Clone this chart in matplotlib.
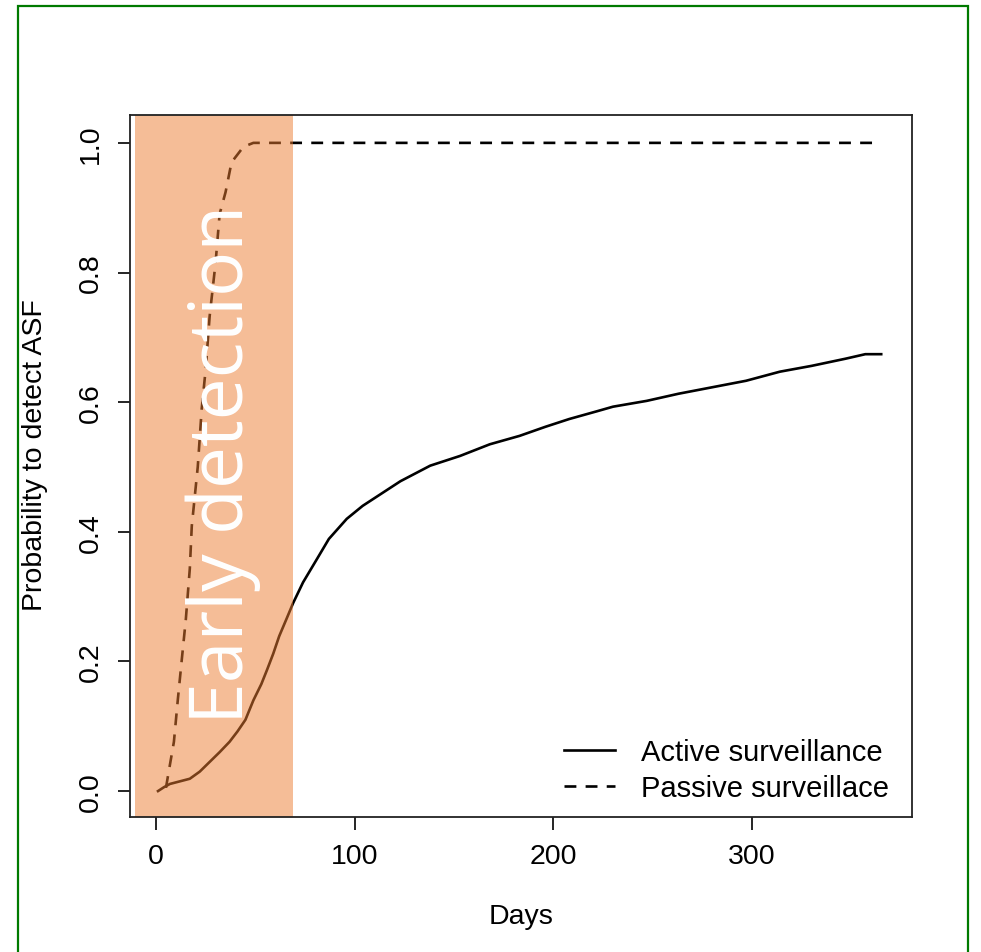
import matplotlib
matplotlib.use("Agg")
import matplotlib.pyplot as plt
from matplotlib.patches import Rectangle

plt.rcParams.update({
    "font.family": ["Liberation Sans", "DejaVu Sans"],
    "font.size": 20.5,
})

# Active surveillance
active_days = [1, 4, 7, 12, 17, 22, 27, 32, 37, 41, 45, 49, 53, 56, 59, 62, 66,
               69, 74, 81, 87, 96, 104, 113, 123, 138, 153, 168, 183, 196, 208,
               222, 230, 247, 263, 280, 297, 314, 330, 347, 357, 365]
active_prob = [0.0, 0.006, 0.011, 0.015, 0.019, 0.03, 0.045, 0.06, 0.076, 0.092,
               0.11, 0.14, 0.165, 0.188, 0.212, 0.239, 0.268, 0.29, 0.322, 0.358,
               0.389, 0.42, 0.44, 0.458, 0.478, 0.502, 0.517, 0.535, 0.548,
               0.562, 0.574, 0.586, 0.593, 0.602, 0.613, 0.623, 0.633, 0.647,
               0.656, 0.667, 0.674, 0.674]

# Passive surveillance
passive_days = [5, 6, 9, 11, 13, 15, 17, 18, 21, 23, 25, 27, 30, 32, 35, 38,
                44, 49, 365]
passive_prob = [0.005, 0.023, 0.076, 0.142, 0.204, 0.265, 0.343, 0.409, 0.5,
                0.59, 0.651, 0.733, 0.816, 0.89, 0.924, 0.97, 0.994, 1.0, 1.0]

early_window = (-10.6, 68.9)

W, H = 981, 953
fig = plt.figure(figsize=(W / 100, H / 100), dpi=100)
ax = fig.add_axes([130 / W, 1 - 818 / H, (912 - 130) / W, (818 - 116) / H])

ax.plot(active_days, active_prob, color="black", lw=1.9, label="Active surveillance")
ax.plot(passive_days, passive_prob, color="black", lw=1.9, dashes=(4.5, 3.5),
        label="Passive surveillace")

ax.set_xlim(-13.1, 380.5)
ax.set_ylim(-0.040, 1.043)
ax.set_xticks([0, 100, 200, 300])
ax.set_yticks([0.0, 0.2, 0.4, 0.6, 0.8, 1.0])
ax.set_yticklabels(["0.0", "0.2", "0.4", "0.6", "0.8", "1.0"], rotation=90, va="center")
ax.tick_params(direction="out", length=9, width=1.2)
ax.tick_params(axis="x", pad=10)
ax.tick_params(axis="y", pad=10)
for s in ax.spines.values():
    s.set_linewidth(1.3)
    s.set_color("#222222")
    s.set_zorder(5)

ax.set_xlabel("Days", labelpad=24)
ax.set_ylabel("Probability to detect ASF")
ax.yaxis.set_label_coords(-0.105, 0.517)

leg = ax.legend(loc="lower right", bbox_to_anchor=(1 - 8 / 782, 0), frameon=False,
                fontsize=21, handlelength=1.75, handletextpad=0.9,
                labelspacing=0.28, borderaxespad=0.1)

# shaded early-detection window drawn over the curves
ax.axvspan(*early_window, color="#ED7D31", alpha=0.5, lw=0, zorder=3)
ax.text(33.7, 0.505, "Early detection", rotation=90, ha="center", va="center",
        color="white", fontsize=54, family=["Open Sans", "DejaVu Sans"], zorder=4)

# green frame round the figure
fig.patches.append(Rectangle((18 / W, -0.05), (968 - 18) / W, 1.05 - 7 / H,
                             transform=fig.transFigure, fill=False,
                             edgecolor="#007a00", lw=1.6))

fig.savefig("out.png", dpi=100)
